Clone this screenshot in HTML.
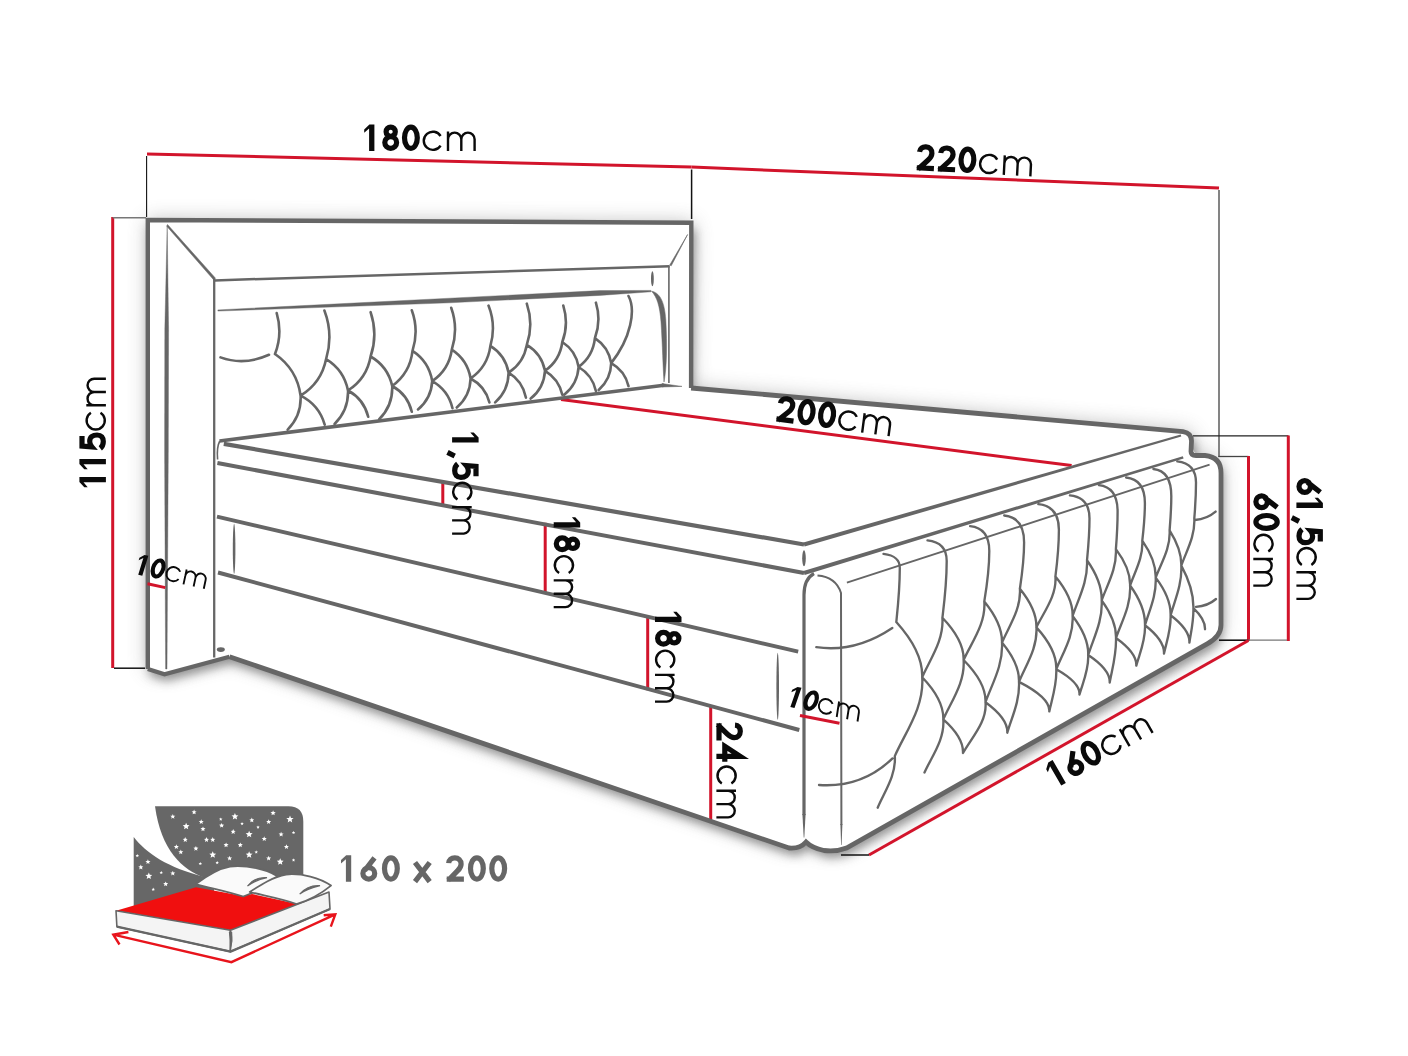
<!DOCTYPE html>
<html><head><meta charset="utf-8"><style>
html,body{margin:0;padding:0;background:#fff;width:1408px;height:1056px;overflow:hidden}
svg{display:block}
text{font-family:"Liberation Sans",sans-serif}
</style></head><body>
<svg width="1408" height="1056" viewBox="0 0 1408 1056">
<rect width="1408" height="1056" fill="#fff"/>
<defs><filter id="blur1" x="-20%" y="-20%" width="140%" height="140%"><feGaussianBlur stdDeviation="5"/></filter><filter id="blur2" x="-20%" y="-20%" width="140%" height="140%"><feGaussianBlur stdDeviation="10"/></filter></defs>
<g filter="url(#blur1)" opacity="0.6"><path d="M147.8,220 L693,222.7 L690.8,388 L1186,431.5 Q1193,433 1193,440 L1193,449 Q1194,455 1206,456.5 Q1221,458 1221,472 L1221,625 Q1221,636 1208,643.7 L846.5,848 Q835,852 824,850.5 L805,841.7 Q800,850 789,848 L229.5,656.75 L164.5,674.25 L147.8,669 Z" fill="#666" transform="translate(2,7)"/></g>
<g filter="url(#blur2)" opacity="0.45"><path d="M147.8,220 L693,222.7 L690.8,388 L1186,431.5 Q1193,433 1193,440 L1193,449 Q1194,455 1206,456.5 Q1221,458 1221,472 L1221,625 Q1221,636 1208,643.7 L846.5,848 Q835,852 824,850.5 L805,841.7 Q800,850 789,848 L229.5,656.75 L164.5,674.25 L147.8,669 Z" fill="#666"/></g>
<path d="M147.8,220 L693,222.7 L690.8,388 L1186,431.5 Q1193,433 1193,440 L1193,449 Q1194,455 1206,456.5 Q1221,458 1221,472 L1221,625 Q1221,636 1208,643.7 L846.5,848 Q835,852 824,850.5 L805,841.7 Q800,850 789,848 L229.5,656.75 L164.5,674.25 L147.8,669 Z" fill="#fff"/>
<line x1="147" y1="154" x2="691.6" y2="167.1" stroke="#d2142b" stroke-width="3" stroke-linecap="butt"/>
<line x1="691.6" y1="167.1" x2="1219" y2="188" stroke="#d2142b" stroke-width="3" stroke-linecap="butt"/>
<line x1="146.6" y1="156" x2="146.6" y2="217" stroke="#111" stroke-width="1.1" stroke-linecap="butt"/>
<line x1="691.6" y1="169.5" x2="691.6" y2="219" stroke="#111" stroke-width="1.5" stroke-linecap="butt"/>
<line x1="1219" y1="190" x2="1219" y2="456.5" stroke="#777" stroke-width="1.8" stroke-linecap="butt"/>
<line x1="1218.2" y1="456.5" x2="1248.5" y2="456.5" stroke="#444" stroke-width="1.3" stroke-linecap="butt"/>
<line x1="1248.5" y1="456" x2="1248.5" y2="641" stroke="#d2142b" stroke-width="3" stroke-linecap="butt"/>
<line x1="1193" y1="435.8" x2="1288.5" y2="435.8" stroke="#222" stroke-width="1.3" stroke-linecap="butt"/>
<line x1="1288.3" y1="435.5" x2="1288.3" y2="641" stroke="#d2142b" stroke-width="3" stroke-linecap="butt"/>
<line x1="1219" y1="640.2" x2="1248.4" y2="640.2" stroke="#111" stroke-width="1.6" stroke-linecap="butt"/>
<line x1="1248.4" y1="640.2" x2="1287" y2="640.2" stroke="#777" stroke-width="1.3" stroke-linecap="butt"/>
<line x1="112.7" y1="217" x2="112.7" y2="668" stroke="#d2142b" stroke-width="3" stroke-linecap="butt"/>
<line x1="112.7" y1="217.8" x2="146" y2="217.8" stroke="#777" stroke-width="1.5" stroke-linecap="butt"/>
<line x1="114" y1="668.2" x2="145" y2="668.2" stroke="#111" stroke-width="1.5" stroke-linecap="butt"/>
<line x1="561" y1="399.5" x2="1071.6" y2="465.6" stroke="#d2142b" stroke-width="3" stroke-linecap="butt"/>
<line x1="442.8" y1="481.5" x2="442.8" y2="506.5" stroke="#d2142b" stroke-width="3" stroke-linecap="butt"/>
<line x1="545.2" y1="522.8" x2="545.2" y2="594" stroke="#d2142b" stroke-width="3" stroke-linecap="butt"/>
<line x1="647.7" y1="616.4" x2="647.7" y2="690.2" stroke="#d2142b" stroke-width="3" stroke-linecap="butt"/>
<line x1="710.7" y1="706" x2="710.7" y2="820" stroke="#d2142b" stroke-width="3" stroke-linecap="butt"/>
<line x1="869" y1="855" x2="1248.4" y2="640.5" stroke="#d2142b" stroke-width="3" stroke-linecap="butt"/>
<line x1="841" y1="855" x2="869" y2="855" stroke="#111" stroke-width="1.5" stroke-linecap="butt"/>
<path d="M147.8,669 L147.8,220 L691.3,222.7 L691.1,388" stroke="#666666" stroke-width="4.4" fill="none" />
<path d="M147.8,669 L164.5,674.25 L229.5,656.75" stroke="#666666" stroke-width="4.4" fill="none" />
<path d="M167.2,225 L168.6,330 L168.3,450 L167,669 L165.6,669 L164.6,450 L164.8,330 Z" stroke="#666666" stroke-width="0.4" fill="#666666" />
<path d="M167.5,224.5 L215.5,278.2 L213.8,280 L167,226.5 Z" stroke="#666666" stroke-width="0.5" fill="#666666" />
<line x1="214.5" y1="280.4" x2="669.7" y2="266.3" stroke="#666666" stroke-width="2.5" stroke-linecap="butt"/>
<path d="M687.6,234.5 L671.2,265.8 L669.8,265 Z" stroke="#666666" stroke-width="0.6" fill="#666666" />
<line x1="214.2" y1="279" x2="214.2" y2="657.5" stroke="#666666" stroke-width="2.3" stroke-linecap="butt"/>
<line x1="668.9" y1="266.3" x2="668.9" y2="383" stroke="#666666" stroke-width="1.6" stroke-linecap="butt"/>
<ellipse cx="220.8" cy="649.6" rx="4" ry="2.4" fill="#666666"/>
<ellipse cx="652.4" cy="278.7" rx="1.4" ry="7.5" fill="#666666"/>
<path d="M217.9,309.9 L450,298.2 L600,290.6 L651,290.4 L651,291.8 L600,295.4 L450,302.8 L217.9,311.1 Z" stroke="#666666" stroke-width="0.4" fill="#666666" />
<path d="M651.5,291.2 C659,292.5 664.5,300 665.8,320 C667.2,345 666.8,368 664,382 C663,368 662.5,345 661,322 C659.8,306 657,297 651.5,291.2 Z" stroke="#666666" stroke-width="0.5" fill="#666666" />
<path d="M219.5,441 L664,385.2" stroke="#666666" stroke-width="3.6" fill="none" />
<path d="M662,383.6 L682,386.4 L662,387 Z" stroke="#666666" stroke-width="0.5" fill="#666666" />
<path d="M691.1,388 L1183,431.6 Q1191.5,433 1191.5,441 L1191,451.5 Q1191,455.5 1196,455.5 L1205,455.5 Q1221,457 1221,473 L1221,625 Q1221,636 1207.6,643.7 L846.5,848 Q836,852 824,850.5 Q812,848 806,842 Q800,849 789,848 L229.5,656.75" stroke="#666666" stroke-width="4.8" fill="none" />
<line x1="223.8" y1="443.9" x2="804" y2="544.5" stroke="#666666" stroke-width="4.2" stroke-linecap="butt"/>
<path d="M804.6,546.6 1181.3,436.6 1180.7,434.4 803.4,542.4Z" fill="#666666"/>
<path d="M219.8,441 Q216.5,447 217.6,459.5" stroke="#666666" stroke-width="1.6" fill="none" />
<line x1="217.4" y1="463" x2="804" y2="573" stroke="#666666" stroke-width="4" stroke-linecap="butt"/>
<path d="M804.6,575 1183.6,458.4 1182.8,456.2 803.4,571Z" fill="#666666"/>
<ellipse cx="804" cy="558.3" rx="1.8" ry="8" fill="#666666"/>
<line x1="217" y1="516.7" x2="798.2" y2="651.6" stroke="#666666" stroke-width="3.9" stroke-linecap="butt"/>
<line x1="218" y1="572.5" x2="799.3" y2="730" stroke="#666666" stroke-width="3.9" stroke-linecap="butt"/>
<ellipse cx="234.1" cy="548.8" rx="1.3" ry="25" fill="#666666"/>
<ellipse cx="777.7" cy="686.2" rx="1.3" ry="33.5" fill="#666666"/>
<path d="M804,815 L804,595 Q804,579 814,573.5" stroke="#666666" stroke-width="3.2" fill="none" />
<path d="M802.4,814 803.7,837.5 804.3,837.5 805.6,814Z" fill="#666666"/>
<path d="M817.5,575.5 Q836,577 841,593 L841.4,825" stroke="#666666" stroke-width="2.0" fill="none" />
<path d="M840.4,824 841.1,845 841.6,845 842.4,824Z" fill="#666666"/>
<line x1="846.9" y1="582.6" x2="1209.6" y2="464.7" stroke="#666666" stroke-width="1.9" stroke-linecap="butt"/>
<path d="M276.7,313.1 Q282.8,333.8 275,354 M324.4,310.5 Q333.5,334.5 326.1,359.1 M370.6,312.2 Q378.1,334.4 370.6,356.5 M411.8,310.3 Q419.1,330.5 412.5,350.9 M451.2,307.8 Q458.6,328.6 451.8,349.7 M488.5,305.6 Q496.3,325.4 490.4,345.9 M526.8,303.7 Q533.8,324.3 526.8,344.9 M563.3,305.6 Q569,324 562.3,342 M595.9,302.7 Q601.4,320.6 594.9,338.2 M628.5,296 C636,310 631,338 611.2,363.1 M275,354 Q297,369.2 300.6,395.7 M326.1,359.1 Q321.4,383 300.6,395.7 M326.1,359.1 Q344,370 348,390.5 M370.6,356.5 Q366.8,378.5 348,390.5 M370.6,356.5 Q387.9,366.5 392.2,386 M412.5,350.9 Q410.1,372.9 392.2,386 M412.5,350.9 Q429,361.7 432.2,381.1 M451.8,349.7 Q448.9,369.7 432.2,381.1 M451.8,349.7 Q467.5,360 470.6,378.5 M490.4,345.9 Q487.7,366.6 470.6,378.5 M490.4,345.9 Q505.4,355.3 508.6,372.7 M526.8,344.9 Q523.8,362.8 508.6,372.7 M526.8,344.9 Q541.6,353.8 545,370.8 M562.3,342 Q560,360.2 545,370.8 M562.3,342 Q576,350.9 578.6,367 M594.9,338.2 Q593.1,356.2 578.6,367 M594.9,338.2 Q608.5,347.1 611.2,363.1 M300.6,395.7 Q301.6,415.5 287.7,429.7 M300.6,395.7 Q319,404.9 324.7,424.7 M348,390.5 Q348.7,410.2 334.6,424 M348,390.5 Q363.9,399.2 368.2,416.8 M392.2,386 Q393,405.5 379.2,419.2 M392.2,386 Q407.7,394.6 411.8,411.8 M432.2,381.1 Q431.3,398.4 418,409.4 M432.2,381.1 Q448.3,390.2 452.5,408.2 M470.6,378.5 Q470.1,396 456.8,407.5 M470.6,378.5 Q485.3,386.3 489.4,402.4 M508.6,372.7 Q508.4,390.5 495.2,402.4 M508.6,372.7 Q522.7,381.3 525.9,397.6 M545,370.8 Q544,387.8 530.7,398.6 M545,370.8 Q558.9,379 562.3,394.8 M578.6,367 Q577.5,384.1 564.2,394.8 M578.6,367 Q592.5,375.2 595.9,391 M611.2,363.1 Q610.9,379.3 598.7,390 M611.2,363.1 Q624.9,370.8 628.5,386.1 M220.5,357.4 Q244,366 269,354.8" stroke="#666666" stroke-width="2.6" fill="none" stroke-linecap="round"/>
<path d="M883.5,553.9 C895.7,555.4 899.8,560.2 899.8,568 C899.8,589.6 898,605.8 896.3,622 M927.5,540.4 C941.9,541.9 946.7,549.7 946.7,561 C946.7,583.7 944.5,600.8 942.4,617.8 M970.1,526.2 C984.5,527.7 989.3,537.4 989.3,551 C989.3,571.2 986.8,586.3 984.3,601.4 M1004.2,515.5 C1019.1,517 1024.1,527.6 1024.1,542.5 C1024.1,561 1022,574.8 1019.9,588.7 M1038.3,504.1 C1053.8,505.6 1058.9,515.6 1058.9,529.7 C1058.9,548.5 1057.2,562.5 1055.4,576.6 M1069.9,495.4 C1084.6,496.9 1089.5,505.8 1089.5,518.4 C1089.5,535.1 1088.2,547.7 1087,560.2 M1098.9,485.2 C1112.9,486.7 1117.6,497.1 1117.6,511.6 C1117.6,526.6 1116.8,537.9 1115.9,549.1 M1126.1,477.5 C1140.2,479 1144.9,489 1144.9,503.1 C1144.9,518.1 1143.6,529.4 1142.3,540.6 M1153.4,469 C1166.8,470.5 1171.3,481.2 1171.3,496.2 C1171.3,509.8 1170.4,520.1 1169.6,530.3 M1177.3,461.3 C1191.3,462.8 1196,470.9 1196,482.6 C1196,496.9 1195.2,507.7 1194.3,518.4 M896.3,622 C907.2,634.1 923,654 922.2,677.2 M942.4,617.8 C944,640.4 929.9,659.4 922.2,677.2 M942.4,617.8 C951.3,627.1 964.2,642.3 963.6,660 M984.3,601.4 C986,623.7 971.5,642.4 963.6,660 M984.3,601.4 C991.7,610.5 1002.5,625.3 1002,642.6 M1019.9,588.7 C1021.3,609.2 1008.8,626.4 1002,642.6 M1019.9,588.7 C1026.8,597.2 1036.9,611.1 1036.4,627.4 M1055.4,576.6 C1056.9,595.9 1043.6,612.2 1036.4,627.4 M1055.4,576.6 C1062.6,585.3 1073.1,599.5 1072.6,616 M1087,560.2 C1088.2,581.4 1078.1,599.3 1072.6,616 M1087,560.2 C1093.2,569 1102.1,583.5 1101.7,600.4 M1115.9,549.1 C1117,568.6 1107.1,585 1101.7,600.4 M1115.9,549.1 C1121.9,557.1 1130.5,570.2 1130.1,585.5 M1142.3,540.6 C1143.3,557.7 1134.7,572 1130.1,585.5 M1142.3,540.6 C1147.9,548.7 1156.1,562.1 1155.7,577.6 M1169.6,530.3 C1170.7,548.3 1161,563.4 1155.7,577.6 M1169.6,530.3 C1174.5,538.1 1181.7,550.8 1181.3,565.6 M1194.3,518.4 C1195.3,536.3 1186.2,551.4 1181.3,565.6 M922.2,677.2 C924.4,707.2 905.2,732.4 894.8,756.1 M922.2,677.2 C931.1,686.5 943.9,701.7 943.3,719.4 M963.6,660 C965.2,682.6 951,701.6 943.3,719.4 M963.6,660 C972.8,669.3 986.2,684.5 985.5,702.2 M1002,642.6 C1003.3,665.2 991.8,684.3 985.5,702.2 M1002,642.6 C1009.1,651.2 1019.5,665.4 1019,681.9 M1036.4,627.4 C1037.8,648.1 1025.6,665.5 1019,681.9 M1036.4,627.4 C1044.8,636.6 1056.9,651.7 1056.3,669.3 M1072.6,616 C1073.9,636.3 1062.5,653.3 1056.3,669.3 M1072.6,616 C1079.2,624.6 1088.7,638.6 1088.2,655 M1101.7,600.4 C1102.8,621.1 1093.3,638.6 1088.2,655 M1101.7,600.4 C1107.7,608.7 1116.4,622.2 1116,638 M1130.1,585.5 C1131.2,605.5 1121.4,622.2 1116,638 M1130.1,585.5 C1136.4,594.2 1145.4,608.5 1145,625.2 M1155.7,577.6 C1156.6,595.7 1149.1,610.9 1145,625.2 M1155.7,577.6 C1162,585.9 1171,599.5 1170.6,615.3 M1181.3,565.6 C1182.2,584.5 1174.7,600.4 1170.6,615.3 M1181.3,565.6 C1186.4,575 1193.8,590.3 1193.4,608.2 M894.8,756.1 C896.2,775.7 884.2,792.2 877.7,807.7 M943.3,719.4 C944.8,739.6 931.6,756.6 924.5,772.5 M943.3,719.4 C951.6,726.8 963.6,738.9 963,753 M985.5,702.2 C987.3,721.5 971.5,737.8 963,753 M985.5,702.2 C994.7,708.9 1008,719.9 1007.3,732.7 M1019,681.9 C1019.9,701.2 1011.7,717.5 1007.3,732.7 M1019,681.9 C1031.7,688.4 1050.2,699 1049.3,711.4 M1056.3,669.3 C1056.9,685.3 1052,698.8 1049.3,711.4 M1056.3,669.3 C1066,674.8 1080.2,683.9 1079.5,694.5 M1088.2,655 C1088.9,670 1082.8,682.6 1079.5,694.5 M1088.2,655 C1097.2,661 1110.3,671 1109.7,682.5 M1116,638 C1116.5,654.9 1112.1,669.1 1109.7,682.5 M1116,638 C1124.5,644.1 1136.9,654 1136.3,665.6 M1145,625.2 C1145.7,640.6 1139.6,653.5 1136.3,665.6 M1145,625.2 C1153,631.4 1164.6,641.6 1164,653.5 M1170.6,615.3 C1171.1,629.8 1166.5,642 1164,653.5 M1170.6,615.3 C1178.5,621.3 1190,631.1 1189.4,642.6 M1193.4,608.2 C1193.7,621.3 1190.9,632.3 1189.4,642.6 M1193.4,608.2 C1198.3,612.8 1205.3,620.4 1205,629.3 M816.3,647.2 Q855,653 892.3,628 M819,785 Q862,788 892.5,758.4 M1195,520 Q1207,519 1215.6,511.6 M1196,606.8 Q1208,606 1216,599" stroke="#666666" stroke-width="2.35" fill="none" stroke-linecap="round"/>
<g transform="translate(364.2,151) rotate(0) scale(1.0)" fill="none" stroke="#0a0a0a" stroke-linecap="butt" stroke-linejoin="miter"><g transform="skewX(0)" stroke-width="5.2"><path transform="translate(0,0)" d="M4.9,0 H10.2 V-26.5 H5.2 L0,-21.6 V-18.2 L4.9,-22.4 Z" fill="#0a0a0a" stroke="none"/><path transform="translate(18,0)" d="M8.5,-19.3 m-4.6,0 a4.6,4.6 0 1,0 9.2,0 a4.6,4.6 0 1,0 -9.2,0 M8.5,-8.5 m-5.9,0 a5.9,5.9 0 1,0 11.8,0 a5.9,5.9 0 1,0 -11.8,0"/><path transform="translate(37.7,0)" d="M9,-13.25 m-6.4,0 a6.4,10.65 0 1,0 12.8,0 a6.4,10.65 0 1,0 -12.8,0"/></g><path transform="skewX(0)" d="M76.4,-15 A9.1,9.1 0 1,0 76.4,-5.4 M83.8,0 V-19.6 M83.8,-11.7 A6.65,6.65 0 0,1 97.1,-11.7 V0 M97.1,-11.7 A6.65,6.65 0 0,1 110.4,-11.7 V0" stroke-width="2.4"/></g>
<g transform="translate(915.4,170.3) rotate(3) scale(1.0)" fill="none" stroke="#0a0a0a" stroke-linecap="butt" stroke-linejoin="miter"><g transform="skewX(0)" stroke-width="5.2"><path transform="translate(0,0)" d="M3.2,-18.6 C3.4,-22 5.8,-23.9 9.3,-23.9 C13,-23.9 15.6,-21.4 15.6,-17.8 C15.6,-15.2 14.2,-13 12.2,-11 L2.6,-1.2 M1.2,-2.6 H18.4"/><path transform="translate(21.2,0)" d="M3.2,-18.6 C3.4,-22 5.8,-23.9 9.3,-23.9 C13,-23.9 15.6,-21.4 15.6,-17.8 C15.6,-15.2 14.2,-13 12.2,-11 L2.6,-1.2 M1.2,-2.6 H18.4"/><path transform="translate(42.4,0)" d="M9,-13.25 m-6.4,0 a6.4,10.65 0 1,0 12.8,0 a6.4,10.65 0 1,0 -12.8,0"/></g><path transform="skewX(0)" d="M81.1,-15 A9.1,9.1 0 1,0 81.1,-5.4 M88.5,0 V-19.6 M88.5,-11.7 A6.65,6.65 0 0,1 101.8,-11.7 V0 M101.8,-11.7 A6.65,6.65 0 0,1 115.1,-11.7 V0" stroke-width="2.4"/></g>
<g transform="translate(774.9,421.3) rotate(7.45) scale(1.0)" fill="none" stroke="#0a0a0a" stroke-linecap="butt" stroke-linejoin="miter"><g transform="skewX(0)" stroke-width="5.2"><path transform="translate(0,0)" d="M3.2,-18.6 C3.4,-22 5.8,-23.9 9.3,-23.9 C13,-23.9 15.6,-21.4 15.6,-17.8 C15.6,-15.2 14.2,-13 12.2,-11 L2.6,-1.2 M1.2,-2.6 H18.4"/><path transform="translate(21.2,0)" d="M9,-13.25 m-6.4,0 a6.4,10.65 0 1,0 12.8,0 a6.4,10.65 0 1,0 -12.8,0"/><path transform="translate(41.9,0)" d="M9,-13.25 m-6.4,0 a6.4,10.65 0 1,0 12.8,0 a6.4,10.65 0 1,0 -12.8,0"/></g><path transform="skewX(0)" d="M80.6,-15 A9.1,9.1 0 1,0 80.6,-5.4 M88,0 V-19.6 M88,-11.7 A6.65,6.65 0 0,1 101.3,-11.7 V0 M101.3,-11.7 A6.65,6.65 0 0,1 114.6,-11.7 V0" stroke-width="2.4"/></g>
<g transform="translate(105.9,487.2) rotate(-90) scale(1.0)" fill="none" stroke="#0a0a0a" stroke-linecap="butt" stroke-linejoin="miter"><g transform="skewX(0)" stroke-width="5.2"><path transform="translate(0,0)" d="M4.9,0 H10.2 V-26.5 H5.2 L0,-21.6 V-18.2 L4.9,-22.4 Z" fill="#0a0a0a" stroke="none"/><path transform="translate(18,0)" d="M4.9,0 H10.2 V-26.5 H5.2 L0,-21.6 V-18.2 L4.9,-22.4 Z" fill="#0a0a0a" stroke="none"/><path transform="translate(36,0)" d="M15.2,-23.9 H5.2 L4.4,-14.2 C6,-15.6 8,-16.2 10,-16.2 C14,-16.2 16.2,-13.2 16.2,-8.8 C16.2,-4.6 13.6,-2.6 9.6,-2.6 C6.8,-2.6 4.4,-3.6 2.8,-5.6"/></g><path transform="skewX(0)" d="M74.5,-15 A9.1,9.1 0 1,0 74.5,-5.4 M81.9,0 V-19.6 M81.9,-11.7 A6.65,6.65 0 0,1 95.2,-11.7 V0 M95.2,-11.7 A6.65,6.65 0 0,1 108.5,-11.7 V0" stroke-width="2.4"/></g>
<g transform="translate(452.1,432.4) rotate(90) scale(1.0)" fill="none" stroke="#0a0a0a" stroke-linecap="butt" stroke-linejoin="miter"><g transform="skewX(0)" stroke-width="5.2"><path transform="translate(0,0)" d="M4.9,0 H10.2 V-26.5 H5.2 L0,-21.6 V-18.2 L4.9,-22.4 Z" fill="#0a0a0a" stroke="none"/><path transform="translate(18,0)" d="M5.6,-2.6 L2.0,4.6"/><path transform="translate(28.7,0)" d="M15.2,-23.9 H5.2 L4.4,-14.2 C6,-15.6 8,-16.2 10,-16.2 C14,-16.2 16.2,-13.2 16.2,-8.8 C16.2,-4.6 13.6,-2.6 9.6,-2.6 C6.8,-2.6 4.4,-3.6 2.8,-5.6"/></g><path transform="skewX(0)" d="M67.2,-15 A9.1,9.1 0 1,0 67.2,-5.4 M74.7,0 V-19.6 M74.7,-11.7 A6.65,6.65 0 0,1 88,-11.7 V0 M88,-11.7 A6.65,6.65 0 0,1 101.2,-11.7 V0" stroke-width="2.4"/></g>
<g transform="translate(553.7,517.3) rotate(90) scale(1.0)" fill="none" stroke="#0a0a0a" stroke-linecap="butt" stroke-linejoin="miter"><g transform="skewX(0)" stroke-width="5.2"><path transform="translate(0,0)" d="M4.9,0 H10.2 V-26.5 H5.2 L0,-21.6 V-18.2 L4.9,-22.4 Z" fill="#0a0a0a" stroke="none"/><path transform="translate(18,0)" d="M8.5,-19.3 m-4.6,0 a4.6,4.6 0 1,0 9.2,0 a4.6,4.6 0 1,0 -9.2,0 M8.5,-8.5 m-5.9,0 a5.9,5.9 0 1,0 11.8,0 a5.9,5.9 0 1,0 -11.8,0"/></g><path transform="skewX(0)" d="M55.7,-15 A9.1,9.1 0 1,0 55.7,-5.4 M63.1,0 V-19.6 M63.1,-11.7 A6.65,6.65 0 0,1 76.5,-11.7 V0 M76.5,-11.7 A6.65,6.65 0 0,1 89.8,-11.7 V0" stroke-width="2.4"/></g>
<g transform="translate(655,611.8) rotate(90) scale(1.0)" fill="none" stroke="#0a0a0a" stroke-linecap="butt" stroke-linejoin="miter"><g transform="skewX(0)" stroke-width="5.2"><path transform="translate(0,0)" d="M4.9,0 H10.2 V-26.5 H5.2 L0,-21.6 V-18.2 L4.9,-22.4 Z" fill="#0a0a0a" stroke="none"/><path transform="translate(18,0)" d="M8.5,-19.3 m-4.6,0 a4.6,4.6 0 1,0 9.2,0 a4.6,4.6 0 1,0 -9.2,0 M8.5,-8.5 m-5.9,0 a5.9,5.9 0 1,0 11.8,0 a5.9,5.9 0 1,0 -11.8,0"/></g><path transform="skewX(0)" d="M55.7,-15 A9.1,9.1 0 1,0 55.7,-5.4 M63.1,0 V-19.6 M63.1,-11.7 A6.65,6.65 0 0,1 76.5,-11.7 V0 M76.5,-11.7 A6.65,6.65 0 0,1 89.8,-11.7 V0" stroke-width="2.4"/></g>
<g transform="translate(716.4,722) rotate(90) scale(1.0)" fill="none" stroke="#0a0a0a" stroke-linecap="butt" stroke-linejoin="miter"><g transform="skewX(0)" stroke-width="5.2"><path transform="translate(0,0)" d="M3.2,-18.6 C3.4,-22 5.8,-23.9 9.3,-23.9 C13,-23.9 15.6,-21.4 15.6,-17.8 C15.6,-15.2 14.2,-13 12.2,-11 L2.6,-1.2 M1.2,-2.6 H18.4"/><path transform="translate(21.2,0)" d="M18.6,-8.4 H3 L13.2,-23.9 V0"/></g><path transform="skewX(0)" d="M61.4,-15 A9.1,9.1 0 1,0 61.4,-5.4 M68.8,0 V-19.6 M68.8,-11.7 A6.65,6.65 0 0,1 82.1,-11.7 V0 M82.1,-11.7 A6.65,6.65 0 0,1 95.4,-11.7 V0" stroke-width="2.4"/></g>
<line x1="147.5" y1="583.8" x2="165.3" y2="587.6" stroke="#d2142b" stroke-width="3" stroke-linecap="butt"/>
<line x1="800" y1="715.5" x2="839.5" y2="723.3" stroke="#d2142b" stroke-width="3" stroke-linecap="butt"/>
<g transform="translate(134.5,574) rotate(12) scale(0.78)" fill="none" stroke="#0a0a0a" stroke-linecap="butt" stroke-linejoin="miter"><g transform="skewX(-5)" stroke-width="5.2"><path transform="translate(0,0)" d="M4.9,0 H10.2 V-26.5 H5.2 L0,-21.6 V-18.2 L4.9,-22.4 Z" fill="#0a0a0a" stroke="none"/><path transform="translate(18,0)" d="M9,-13.25 m-6.4,0 a6.4,10.65 0 1,0 12.8,0 a6.4,10.65 0 1,0 -12.8,0"/></g><path transform="skewX(0)" d="M56.7,-15 A9.1,9.1 0 1,0 56.7,-5.4 M64.2,0 V-19.6 M64.2,-11.7 A6.65,6.65 0 0,1 77.5,-11.7 V0 M77.5,-11.7 A6.65,6.65 0 0,1 90.8,-11.7 V0" stroke-width="2.4"/></g>
<g transform="translate(786.5,706.2) rotate(12.2) scale(0.8)" fill="none" stroke="#0a0a0a" stroke-linecap="butt" stroke-linejoin="miter"><g transform="skewX(-7)" stroke-width="5.2"><path transform="translate(0,0)" d="M4.9,0 H10.2 V-26.5 H5.2 L0,-21.6 V-18.2 L4.9,-22.4 Z" fill="#0a0a0a" stroke="none"/><path transform="translate(18,0)" d="M9,-13.25 m-6.4,0 a6.4,10.65 0 1,0 12.8,0 a6.4,10.65 0 1,0 -12.8,0"/></g><path transform="skewX(3.5)" d="M56.7,-15 A9.1,9.1 0 1,0 56.7,-5.4 M64.2,0 V-19.6 M64.2,-11.7 A6.65,6.65 0 0,1 77.5,-11.7 V0 M77.5,-11.7 A6.65,6.65 0 0,1 90.8,-11.7 V0" stroke-width="2.4"/></g>
<g transform="translate(1253.3,493.2) rotate(90) scale(1.0)" fill="none" stroke="#0a0a0a" stroke-linecap="butt" stroke-linejoin="miter"><g transform="skewX(0)" stroke-width="5.2"><path transform="translate(0,0)" d="M14.2,-23.9 L4.4,-11.2 M8.5,-8.3 m-5.9,0 a5.9,5.7 0 1,0 11.8,0 a5.9,5.7 0 1,0 -11.8,0"/><path transform="translate(19.7,0)" d="M9,-13.25 m-6.4,0 a6.4,10.65 0 1,0 12.8,0 a6.4,10.65 0 1,0 -12.8,0"/></g><path transform="skewX(0)" d="M58.4,-15 A9.1,9.1 0 1,0 58.4,-5.4 M65.8,0 V-19.6 M65.8,-11.7 A6.65,6.65 0 0,1 79.1,-11.7 V0 M79.1,-11.7 A6.65,6.65 0 0,1 92.4,-11.7 V0" stroke-width="2.4"/></g>
<g transform="translate(1296.4,478) rotate(90) scale(1.0)" fill="none" stroke="#0a0a0a" stroke-linecap="butt" stroke-linejoin="miter"><g transform="skewX(0)" stroke-width="5.2"><path transform="translate(0,0)" d="M14.2,-23.9 L4.4,-11.2 M8.5,-8.3 m-5.9,0 a5.9,5.7 0 1,0 11.8,0 a5.9,5.7 0 1,0 -11.8,0"/><path transform="translate(19.7,0)" d="M4.9,0 H10.2 V-26.5 H5.2 L0,-21.6 V-18.2 L4.9,-22.4 Z" fill="#0a0a0a" stroke="none"/><path transform="translate(37.7,0)" d="M5.6,-2.6 L2.0,4.6"/><path transform="translate(48.4,0)" d="M15.2,-23.9 H5.2 L4.4,-14.2 C6,-15.6 8,-16.2 10,-16.2 C14,-16.2 16.2,-13.2 16.2,-8.8 C16.2,-4.6 13.6,-2.6 9.6,-2.6 C6.8,-2.6 4.4,-3.6 2.8,-5.6"/></g><path transform="skewX(0)" d="M86.9,-15 A9.1,9.1 0 1,0 86.9,-5.4 M94.3,0 V-19.6 M94.3,-11.7 A6.65,6.65 0 0,1 107.6,-11.7 V0 M107.6,-11.7 A6.65,6.65 0 0,1 120.9,-11.7 V0" stroke-width="2.4"/></g>
<g transform="translate(1057,788) rotate(-30) scale(1.0)" fill="none" stroke="#0a0a0a" stroke-linecap="butt" stroke-linejoin="miter"><g transform="skewX(0)" stroke-width="5.2"><path transform="translate(0,0)" d="M4.9,0 H10.2 V-26.5 H5.2 L0,-21.6 V-18.2 L4.9,-22.4 Z" fill="#0a0a0a" stroke="none"/><path transform="translate(18,0)" d="M14.2,-23.9 L4.4,-11.2 M8.5,-8.3 m-5.9,0 a5.9,5.7 0 1,0 11.8,0 a5.9,5.7 0 1,0 -11.8,0"/><path transform="translate(37.7,0)" d="M9,-13.25 m-6.4,0 a6.4,10.65 0 1,0 12.8,0 a6.4,10.65 0 1,0 -12.8,0"/></g><path transform="skewX(0)" d="M76.4,-15 A9.1,9.1 0 1,0 76.4,-5.4 M83.8,0 V-19.6 M83.8,-11.7 A6.65,6.65 0 0,1 97.1,-11.7 V0 M97.1,-11.7 A6.65,6.65 0 0,1 110.4,-11.7 V0" stroke-width="2.4"/></g>
<g fill="none" stroke="#666" stroke-width="5.2"><path transform="translate(341,881.7)" d="M4.9,0 H10.2 V-26.5 H5.2 L0,-21.6 V-18.2 L4.9,-22.4 Z" fill="#666" stroke="none"/><path transform="translate(360.3,881.7)" d="M14.2,-23.9 L4.4,-11.2 M8.5,-8.3 m-5.9,0 a5.9,5.7 0 1,0 11.8,0 a5.9,5.7 0 1,0 -11.8,0"/><path transform="translate(381.9,881.7)" d="M9,-13.25 m-6.4,0 a6.4,10.65 0 1,0 12.8,0 a6.4,10.65 0 1,0 -12.8,0"/><path transform="translate(412.2,881.7)" d="M2.8,-19.2 L17.5,0 M17.5,-19.2 L2.8,0"/><path transform="translate(445.5,881.7)" d="M3.2,-18.6 C3.4,-22 5.8,-23.9 9.3,-23.9 C13,-23.9 15.6,-21.4 15.6,-17.8 C15.6,-15.2 14.2,-13 12.2,-11 L2.6,-1.2 M1.2,-2.6 H18.4"/><path transform="translate(467.9,881.7)" d="M9,-13.25 m-6.4,0 a6.4,10.65 0 1,0 12.8,0 a6.4,10.65 0 1,0 -12.8,0"/><path transform="translate(489.2,881.7)" d="M9,-13.25 m-6.4,0 a6.4,10.65 0 1,0 12.8,0 a6.4,10.65 0 1,0 -12.8,0"/></g>
<path d="M155,806.3 L288.5,806.3 Q303.3,806.3 303.3,821.5 L303.3,878 L205,878 C182,870 161,850 155,806.3 Z" fill="#676767"/>
<path d="M133.7,837 C146,853 168,868 205,877 L214,878 L214,908 L133.7,908 Z" fill="#676767"/>
<path d="M172.8,814 L173.5,815.7 L175.3,815.8 L173.9,817 L174.4,818.8 L172.8,817.8 L171.2,818.8 L171.7,817 L170.3,815.8 L172.1,815.7Z M194.1,809.6 L194.8,811.2 L196.6,811.4 L195.2,812.6 L195.7,814.3 L194.1,813.4 L192.6,814.3 L193,812.6 L191.6,811.4 L193.4,811.2Z M234.9,813 L235.9,815.3 L238.4,815.5 L236.5,817.1 L237.1,819.5 L234.9,818.3 L232.8,819.5 L233.4,817.1 L231.5,815.5 L234,815.3Z M273.1,810.3 L273.8,812.1 L275.7,812.2 L274.3,813.5 L274.7,815.3 L273.1,814.3 L271.5,815.3 L271.9,813.5 L270.5,812.2 L272.4,812.1Z M290,815.5 L291,817.9 L293.6,818.1 L291.6,819.8 L292.2,822.4 L290,821 L287.7,822.4 L288.3,819.8 L286.3,818.1 L289,817.9Z M186.1,822.8 L187.1,825.1 L189.5,825.3 L187.7,826.9 L188.2,829.3 L186.1,828 L184,829.3 L184.6,826.9 L182.7,825.3 L185.2,825.1Z M201.2,819.3 L201.9,821 L203.7,821.1 L202.3,822.3 L202.8,824.1 L201.2,823.1 L199.7,824.1 L200.1,822.3 L198.7,821.1 L200.5,821Z M221.6,822.9 L222.3,824.6 L224.1,824.7 L222.8,825.9 L223.2,827.6 L221.6,826.7 L220.1,827.6 L220.5,825.9 L219.1,824.7 L220.9,824.6Z M251.8,817.5 L252.5,819.2 L254.3,819.4 L252.9,820.6 L253.4,822.3 L251.8,821.4 L250.3,822.3 L250.7,820.6 L249.3,819.4 L251.1,819.2Z M268.7,819.3 L269.4,821 L271.2,821.1 L269.8,822.3 L270.2,824.1 L268.7,823.1 L267.1,824.1 L267.5,822.3 L266.2,821.1 L268,821Z M203,826.4 L203.7,828.1 L205.5,828.2 L204.1,829.4 L204.5,831.2 L203,830.3 L201.4,831.2 L201.9,829.4 L200.5,828.2 L202.3,828.1Z M233.2,829.1 L233.9,830.8 L235.7,830.9 L234.3,832.1 L234.7,833.9 L233.2,832.9 L231.6,833.9 L232,832.1 L230.7,830.9 L232.5,830.8Z M249.1,830.8 L250.1,833.1 L252.6,833.3 L250.7,834.9 L251.3,837.3 L249.1,836 L247,837.3 L247.6,834.9 L245.7,833.3 L248.2,833.1Z M281.1,831.7 L281.8,833.4 L283.6,833.6 L282.2,834.8 L282.7,836.5 L281.1,835.6 L279.6,836.5 L280,834.8 L278.6,833.6 L280.4,833.4Z M185.2,837.1 L185.9,838.8 L187.7,838.9 L186.4,840.1 L186.8,841.9 L185.2,840.9 L183.7,841.9 L184.1,840.1 L182.7,838.9 L184.5,838.8Z M206.5,837.1 L207.2,838.8 L209,838.9 L207.7,840.1 L208.1,841.9 L206.5,840.9 L205,841.9 L205.4,840.1 L204,838.9 L205.8,838.8Z M212.7,837.1 L213.4,838.8 L215.3,838.9 L213.9,840.1 L214.3,841.9 L212.7,840.9 L211.2,841.9 L211.6,840.1 L210.2,838.9 L212.1,838.8Z M226.1,842.4 L226.8,844.1 L228.6,844.2 L227.2,845.4 L227.6,847.2 L226.1,846.2 L224.5,847.2 L224.9,845.4 L223.6,844.2 L225.4,844.1Z M240.3,842.4 L241,844.1 L242.8,844.2 L241.4,845.4 L241.8,847.2 L240.3,846.2 L238.7,847.2 L239.1,845.4 L237.8,844.2 L239.6,844.1Z M264.2,836.2 L264.9,837.9 L266.8,838 L265.4,839.2 L265.8,841 L264.2,840 L262.7,841 L263.1,839.2 L261.7,838 L263.5,837.9Z M176.3,844.2 L177,845.9 L178.9,846 L177.5,847.2 L177.9,849 L176.3,848 L174.8,849 L175.2,847.2 L173.8,846 L175.7,845.9Z M195.9,846 L196.6,847.6 L198.4,847.8 L197,849 L197.4,850.7 L195.9,849.8 L194.3,850.7 L194.8,849 L193.4,847.8 L195.2,847.6Z M286.4,844.2 L287.1,845.9 L288.9,846 L287.6,847.2 L288,849 L286.4,848 L284.9,849 L285.3,847.2 L283.9,846 L285.7,845.9Z M180.8,849.5 L181.5,851.2 L183.3,851.3 L181.9,852.5 L182.3,854.3 L180.8,853.3 L179.2,854.3 L179.7,852.5 L178.3,851.3 L180.1,851.2Z M212.7,851.2 L213.7,853.5 L216.2,853.7 L214.3,855.3 L214.9,857.7 L212.7,856.4 L210.6,857.7 L211.2,855.3 L209.3,853.7 L211.8,853.5Z M229.6,855.7 L230.3,857.4 L232.1,857.5 L230.7,858.7 L231.2,860.5 L229.6,859.5 L228.1,860.5 L228.5,858.7 L227.1,857.5 L228.9,857.4Z M249.1,851.2 L250.1,853.5 L252.6,853.7 L250.7,855.3 L251.3,857.7 L249.1,856.4 L247,857.7 L247.6,855.3 L245.7,853.7 L248.2,853.5Z M268.7,855.7 L269.4,857.4 L271.2,857.5 L269.8,858.7 L270.2,860.5 L268.7,859.5 L267.1,860.5 L267.5,858.7 L266.2,857.5 L268,857.4Z M280.2,858.3 L281.2,860.6 L283.6,860.8 L281.8,862.4 L282.3,864.8 L280.2,863.5 L278.1,864.8 L278.7,862.4 L276.8,860.8 L279.3,860.6Z M147.9,859.3 L148.6,860.9 L150.5,861.1 L149.1,862.3 L149.5,864 L147.9,863.1 L146.4,864 L146.8,862.3 L145.4,861.1 L147.2,860.9Z M140.8,864.6 L141.5,866.3 L143.3,866.4 L142,867.6 L142.4,869.4 L140.8,868.4 L139.3,869.4 L139.7,867.6 L138.3,866.4 L140.1,866.3Z M148.8,872.5 L149.8,874.8 L152.3,875 L150.4,876.6 L150.9,879 L148.8,877.7 L146.7,879 L147.3,876.6 L145.4,875 L147.9,874.8Z M172.8,870.8 L173.5,872.5 L175.3,872.6 L173.9,873.8 L174.4,875.6 L172.8,874.6 L171.2,875.6 L171.7,873.8 L170.3,872.6 L172.1,872.5Z M165.7,881.5 L166.4,883.1 L168.2,883.3 L166.8,884.5 L167.2,886.2 L165.7,885.3 L164.1,886.2 L164.6,884.5 L163.2,883.3 L165,883.1Z M161.3,870.8 L161.7,871.9 L163,872 L162,872.8 L162.3,874 L161.3,873.4 L160.2,874 L160.5,872.8 L159.5,872 L160.8,871.9Z M293.5,858.3 L294,859.5 L295.2,859.6 L294.3,860.4 L294.6,861.6 L293.5,860.9 L292.5,861.6 L292.8,860.4 L291.8,859.6 L293.1,859.5Z M256.2,850.3 L256.7,851.5 L258,851.6 L257,852.4 L257.3,853.6 L256.2,853 L255.2,853.6 L255.5,852.4 L254.5,851.6 L255.8,851.5Z M220.7,817.5 L221.2,818.6 L222.5,818.7 L221.5,819.5 L221.8,820.8 L220.7,820.1 L219.7,820.8 L220,819.5 L219,818.7 L220.3,818.6Z M293.5,830.8 L294,832 L295.2,832.1 L294.3,832.9 L294.6,834.1 L293.5,833.4 L292.5,834.1 L292.8,832.9 L291.8,832.1 L293.1,832Z M217.2,861 L217.7,862.1 L218.9,862.2 L218,863 L218.2,864.3 L217.2,863.6 L216.1,864.3 L216.4,863 L215.5,862.2 L216.7,862.1Z M200.3,861.9 L200.8,863 L202,863.1 L201.1,863.9 L201.4,865.1 L200.3,864.5 L199.3,865.1 L199.5,863.9 L198.6,863.1 L199.8,863Z M137.3,853.9 L137.8,855 L139,855.1 L138.1,855.9 L138.3,857.2 L137.3,856.5 L136.2,857.2 L136.5,855.9 L135.6,855.1 L136.8,855Z M153.3,887.6 L153.7,888.8 L155,888.9 L154,889.7 L154.3,890.9 L153.3,890.2 L152.2,890.9 L152.5,889.7 L151.6,888.9 L152.8,888.8Z M258,825.5 L258.5,826.6 L259.7,826.7 L258.8,827.5 L259.1,828.7 L258,828.1 L257,828.7 L257.3,827.5 L256.3,826.7 L257.5,826.6Z M242,821.9 L242.5,823.1 L243.8,823.2 L242.8,824 L243.1,825.2 L242,824.5 L241,825.2 L241.3,824 L240.3,823.2 L241.6,823.1Z" fill="#fff"/>
<path d="M116,910.7 L196,887.3 L243,896 L252,894 L296.5,903.7 L329,892 L230.5,930.3 Z" fill="#f00f0f"/>
<path d="M116,910.7 L230.5,930.3 L230.5,951.6 L116.9,926.7 Z" fill="#f4f4f4" stroke="#666" stroke-width="1.6" stroke-linejoin="round"/>
<path d="M230.5,930.3 L329,892 L330,909 L230.5,951.6 Z" fill="#f4f4f4" stroke="#666" stroke-width="1.6" stroke-linejoin="round"/>
<path d="M195.9,884 C205,877 216,869 230,866.5 C248,865 266,869 276,875.5 L279,878.5 C270,884 260,889 252,893 L243.3,896.5 C226,891 210,888 195.9,884 Z" fill="#fafafa" stroke="#666" stroke-width="1.8" stroke-linejoin="round"/>
<path d="M249.7,892 C262,884 273,877 286,874.5 C302,873 320,878 331,885.6 C322,893 310,900 296.5,904 C283,899 266,896 249.7,892 Z" fill="#fafafa" stroke="#666" stroke-width="1.8" stroke-linejoin="round"/>
<path d="M247.5,886.1 C252,880 259,877 267,877.6 C259,879 253,882 247.5,886.1 Z" fill="#666" stroke="#666" stroke-width="1.2"/>
<path d="M299.7,894.1 C305,888 312,885 320,885.6 C312,887.5 305,890 299.7,894.1 Z" fill="#666" stroke="#666" stroke-width="1.2"/>
<path d="M116.9,926.7 L230.5,951.6 L330,909" fill="none" stroke="#666" stroke-width="2.4" stroke-linejoin="round"/>
<path d="M229.3,932 Q231.5,941 230.3,950 Q233,941 231.7,932 Z" fill="#666" stroke="#666" stroke-width="1"/>
<path d="M113.3,934.7 L231.4,962.2 L335.3,914.3 M128.4,932 L113.3,934.7 L119.5,944.5 M323.7,915.2 L335.3,914.3 L330.8,926.7" fill="none" stroke="#e8141c" stroke-width="2.4" stroke-linejoin="miter"/>
</svg></body></html>
